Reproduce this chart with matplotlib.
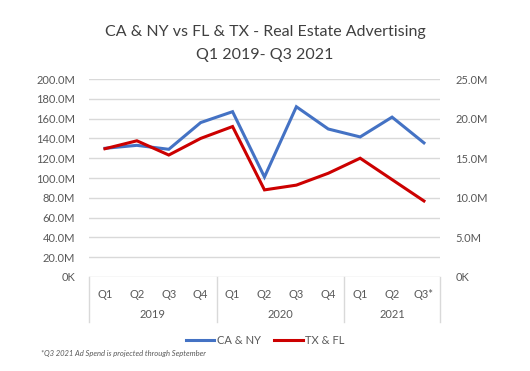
import numpy as np
import matplotlib.pyplot as plt
import matplotlib.transforms as mtransforms

plt.rcParams['font.family'] = ['Lato', 'DejaVu Sans']

quarters = ["Q1", "Q2", "Q3", "Q4", "Q1", "Q2", "Q3", "Q4", "Q1", "Q2", "Q3*"]
years = ["2019", "2020", "2021"]
year_spans = [(0, 3), (4, 7), (8, 10)]

ca_ny = [130, 133, 129, 156, 167, 101, 172, 149.5, 141.5, 161.5, 135.5]   # millions, left axis
tx_fl = [16.2, 17.2, 15.4, 17.5, 19.0, 11.0, 11.6, 13.1, 15.0, 12.3, 9.6]  # millions, right axis

left_ticks = np.arange(0, 201, 20)
right_ticks = np.arange(0, 26, 5)

BLUE = "#4472C4"
RED = "#CC0000"
GRID = "#D9D9D9"
TXT = "#595959"


def fmt_left(v):
    return "0K" if v == 0 else "%.1fM" % v


def main():
    fig = plt.figure(figsize=(5.3, 3.71), dpi=100)
    ax = fig.add_axes([0.168, 0.2534, 0.662, 0.5336])
    x = np.arange(len(quarters))

    for t in left_ticks:
        ax.axhline(t, color=GRID, lw=1, zorder=0)
    ax.plot(x, ca_ny, color=BLUE, lw=2.2, label="CA & NY", solid_joinstyle="miter")
    ax.set_ylim(0, 200)
    ax.set_xlim(-0.5, len(quarters) - 0.5)
    ax.set_yticks(left_ticks)
    ax.set_yticklabels([fmt_left(v) for v in left_ticks])

    ax2 = ax.twinx()
    ax2.plot(x, tx_fl, color=RED, lw=2.2, label="TX & FL", solid_joinstyle="miter")
    ax2.set_ylim(0, 25)
    ax2.set_yticks(right_ticks)
    ax2.set_yticklabels(["0K" if v == 0 else "%.1fM" % v for v in right_ticks])

    for a in (ax, ax2):
        for s in a.spines.values():
            s.set_visible(False)
        a.tick_params(axis="y", length=0, labelsize=8, colors=TXT, pad=10)
    ax2.tick_params(axis="y", pad=11)

    ax.set_xticks(x)
    ax.set_xticklabels(quarters)
    ax.tick_params(axis="x", length=0, labelsize=8, colors=TXT, pad=9)

    # multi-level category axis
    trans = mtransforms.blended_transform_factory(ax.transData, ax.transAxes)
    for b in [-0.5, 3.5, 7.5, 10.5]:
        ax.plot([b, b], [0, -0.228], color=GRID, lw=1, transform=trans, clip_on=False)
    for yr, (a, b) in zip(years, year_spans):
        ax.text((a + b) / 2, -0.187, yr, transform=trans, ha="center", va="center",
                fontsize=8, color=TXT)

    fig.text(0.5, 0.913, "CA & NY vs FL & TX - Real Estate Advertising", ha="center",
             va="center", fontsize=11.5, color="#404040")
    fig.text(0.5, 0.853, "Q1 2019- Q3 2021", ha="center", va="center",
             fontsize=11.5, color="#404040")

    h1, l1 = ax.get_legend_handles_labels()
    h2, l2 = ax2.get_legend_handles_labels()
    leg = fig.legend(h1 + h2, l1 + l2, loc="center", bbox_to_anchor=(0.5, 0.083),
                     ncol=2, frameon=False, fontsize=8, handlelength=2.6,
                     handletextpad=0.2, columnspacing=1.2)
    for t in leg.get_texts():
        t.set_color(TXT)

    fig.text(0.077, 0.048, "*Q3 2021 Ad Spend is projected through September",
             fontsize=5.5, style="italic", color=TXT, va="center")

    fig.savefig("out.png", dpi=100)
    plt.close(fig)


if __name__ == "__main__":
    main()
